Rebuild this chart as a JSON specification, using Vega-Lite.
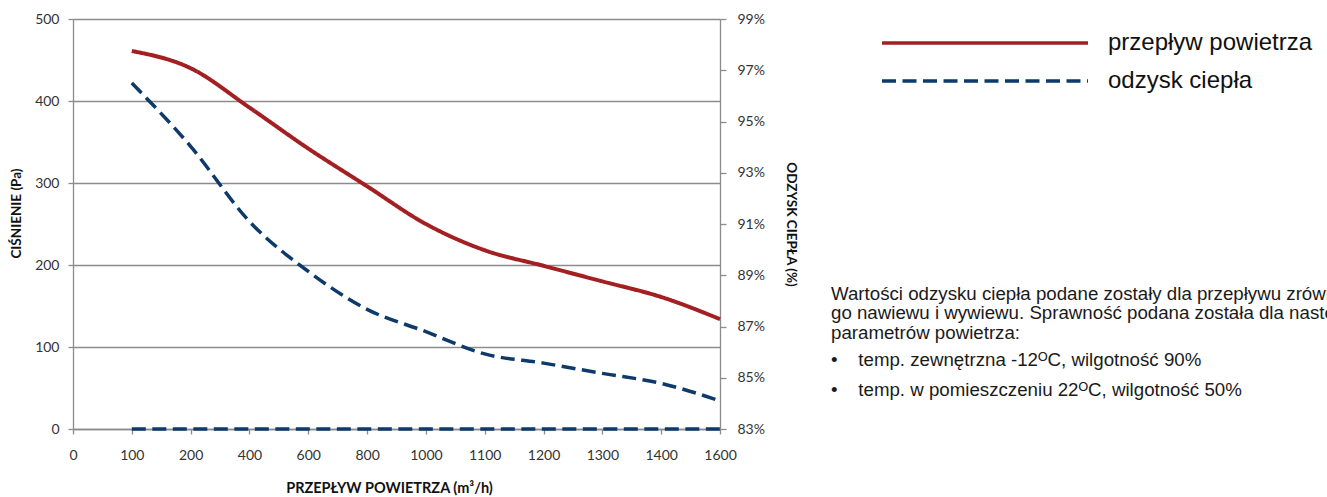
{
  "$schema": "https://vega.github.io/schema/vega-lite/v6.json",
  "autosize": {"type": "none"},
  "width": 647,
  "height": 410,
  "padding": {"left": 73, "top": 19, "right": 607, "bottom": 68},
  "background": "white",
  "datasets": {
    "pressure": [
      {"q": "100", "p": 461, "s": "przepływ powietrza"},
      {"q": "200", "p": 440, "s": "przepływ powietrza"},
      {"q": "400", "p": 392, "s": "przepływ powietrza"},
      {"q": "600", "p": 342, "s": "przepływ powietrza"},
      {"q": "800", "p": 296, "s": "przepływ powietrza"},
      {"q": "1000", "p": 250, "s": "przepływ powietrza"},
      {"q": "1100", "p": 218, "s": "przepływ powietrza"},
      {"q": "1200", "p": 199, "s": "przepływ powietrza"},
      {"q": "1300", "p": 180, "s": "przepływ powietrza"},
      {"q": "1400", "p": 161, "s": "przepływ powietrza"},
      {"q": "1600", "p": 134, "s": "przepływ powietrza"}
    ],
    "base": [
      {"q": "100", "p": 0},
      {"q": "200", "p": 0},
      {"q": "400", "p": 0},
      {"q": "600", "p": 0},
      {"q": "800", "p": 0},
      {"q": "1000", "p": 0},
      {"q": "1100", "p": 0},
      {"q": "1200", "p": 0},
      {"q": "1300", "p": 0},
      {"q": "1400", "p": 0},
      {"q": "1600", "p": 0}
    ],
    "recovery": [
      {"q": "100", "r": 96.5, "s": "odzysk ciepła"},
      {"q": "200", "r": 94.03, "s": "odzysk ciepła"},
      {"q": "400", "r": 91.1, "s": "odzysk ciepła"},
      {"q": "600", "r": 89.15, "s": "odzysk ciepła"},
      {"q": "800", "r": 87.67, "s": "odzysk ciepła"},
      {"q": "1000", "r": 86.8, "s": "odzysk ciepła"},
      {"q": "1100", "r": 85.93, "s": "odzysk ciepła"},
      {"q": "1200", "r": 85.57, "s": "odzysk ciepła"},
      {"q": "1300", "r": 85.17, "s": "odzysk ciepła"},
      {"q": "1400", "r": 84.78, "s": "odzysk ciepła"},
      {"q": "1600", "r": 84.1, "s": "odzysk ciepła"}
    ]
  },
  "title": {
    "text": [
      "Wartości odzysku ciepła podane zostały dla przepływu zrównoważone-",
      "go nawiewu i wywiewu. Sprawność podana została dla następujących",
      "parametrów powietrza:"
    ],
    "subtitle": [
      "•\u00a0\u00a0\u00a0\u00a0temp. zewnętrzna -12ᴼC, wilgotność 90%",
      "•\u00a0\u00a0\u00a0\u00a0temp. w pomieszczeniu 22ᴼC, wilgotność 50%"
    ],
    "anchor": "start",
    "frame": "group",
    "orient": "top",
    "offset": 0,
    "dx": 758,
    "dy": 388,
    "font": "Liberation Sans",
    "fontSize": 18.7,
    "fontWeight": "normal",
    "color": "#1a1a1a",
    "lineHeight": 19.35,
    "subtitleFont": "Liberation Sans",
    "subtitleFontSize": 18.7,
    "subtitleColor": "#1a1a1a",
    "subtitleLineHeight": 30,
    "subtitlePadding": 9
  },
  "config": {
    "view": {"stroke": null},
    "axis": {
      "labelFont": "Lato",
      "labelFontSize": 14,
      "labelColor": "#333333",
      "titleFont": "Lato",
      "titleFontSize": 13.5,
      "titleFontWeight": "bold",
      "titleColor": "#111111",
      "domainColor": "#8c8c8c",
      "domainWidth": 1.3,
      "tickColor": "#8c8c8c",
      "tickWidth": 1.3,
      "gridColor": "#8c8c8c",
      "gridWidth": 1.3
    }
  },
  "layer": [
    {
      "layer": [
        {
          "data": {"name": "pressure"},
          "mark": {"type": "line", "strokeWidth": 4, "interpolate": "monotone"},
          "encoding": {
            "x": {
              "field": "q", "type": "ordinal",
              "scale": {"type": "point", "padding": 0, "domain": ["0","100","200","400","600","800","1000","1100","1200","1300","1400","1600"]},
              "axis": {"title": "PRZEPŁYW POWIETRZA (m³/h)", "titleFontSize": 14.5, "titleX": 316, "labelAngle": 0, "tickSize": 5, "labelPadding": 14, "titlePadding": 19, "grid": false}
            },
            "y": {
              "field": "p", "type": "quantitative",
              "scale": {"domain": [0, 500], "nice": false},
              "axis": {"title": "CIŚNIENIE (Pa)", "titleY": 194, "values": [0,100,200,300,400,500], "grid": true, "tickSize": 5, "labelPadding": 9, "titlePadding": 11}
            },
            "color": {
              "field": "s", "type": "nominal",
              "scale": {"domain": ["przepływ powietrza", "odzysk ciepła"], "range": ["#a31f22", "#0d3a6a"]},
              "legend": {"orient": "none", "legendX": 807, "legendY": 5, "title": null, "symbolType": "stroke", "symbolSize": 42436, "symbolStrokeWidth": 3.5, "clipHeight": 38, "labelFont": "Liberation Sans", "labelFontSize": 24, "labelColor": "#111111", "labelOffset": 18, "rowPadding": 0, "padding": 0, "labelLimit": 400}
            },
            "strokeDash": {
              "field": "s", "type": "nominal",
              "scale": {"domain": ["przepływ powietrza", "odzysk ciepła"], "range": [[1, 0], [14, 6.5]]},
              "legend": {"orient": "none", "legendX": 807, "legendY": 5, "title": null, "symbolType": "stroke", "symbolSize": 42436, "symbolStrokeWidth": 3.5, "clipHeight": 38, "labelFont": "Liberation Sans", "labelFontSize": 24, "labelColor": "#111111", "labelOffset": 18, "rowPadding": 0, "padding": 0, "labelLimit": 400}
            }
          }
        },
        {
          "data": {"name": "base"},
          "mark": {"type": "line", "strokeWidth": 3.5, "color": "#0d3a6a", "strokeDash": [14, 6.5]},
          "encoding": {
            "x": {
              "field": "q", "type": "ordinal",
              "scale": {"type": "point", "padding": 0, "domain": ["0","100","200","400","600","800","1000","1100","1200","1300","1400","1600"]},
              "axis": {"title": "PRZEPŁYW POWIETRZA (m³/h)", "titleFontSize": 14.5, "titleX": 316, "labelAngle": 0, "tickSize": 5, "labelPadding": 14, "titlePadding": 19, "grid": false}
            },
            "y": {
              "field": "p", "type": "quantitative",
              "scale": {"domain": [0, 500], "nice": false},
              "axis": {"title": "CIŚNIENIE (Pa)", "titleY": 194, "values": [0,100,200,300,400,500], "grid": true, "tickSize": 5, "labelPadding": 9, "titlePadding": 11}
            }
          }
        }
      ]
    },
    {
      "data": {"name": "recovery"},
      "mark": {"type": "line", "strokeWidth": 3.5, "interpolate": "monotone"},
      "encoding": {
        "x": {
          "field": "q", "type": "ordinal",
          "scale": {"type": "point", "padding": 0, "domain": ["0","100","200","400","600","800","1000","1100","1200","1300","1400","1600"]},
          "axis": {"title": "PRZEPŁYW POWIETRZA (m³/h)", "titleFontSize": 14.5, "titleX": 316, "labelAngle": 0, "tickSize": 5, "labelPadding": 14, "titlePadding": 19, "grid": false}
        },
        "y": {
          "field": "r", "type": "quantitative",
          "scale": {"domain": [83, 99], "nice": false, "zero": false},
          "axis": {"orient": "right", "title": "ODZYSK CIEPŁA (%)", "values": [83,85,87,89,91,93,95,97,99], "labelExpr": "datum.value + '%'", "grid": false, "tickSize": 6, "labelPadding": 11, "titlePadding": 19}
        },
        "color": {
          "field": "s", "type": "nominal",
          "scale": {"domain": ["przepływ powietrza", "odzysk ciepła"], "range": ["#a31f22", "#0d3a6a"]},
          "legend": {"orient": "none", "legendX": 807, "legendY": 5, "title": null, "symbolType": "stroke", "symbolSize": 42436, "symbolStrokeWidth": 3.5, "clipHeight": 38, "labelFont": "Liberation Sans", "labelFontSize": 24, "labelColor": "#111111", "labelOffset": 18, "rowPadding": 0, "padding": 0, "labelLimit": 400}
        },
        "strokeDash": {
          "field": "s", "type": "nominal",
          "scale": {"domain": ["przepływ powietrza", "odzysk ciepła"], "range": [[1, 0], [14, 6.5]]},
          "legend": {"orient": "none", "legendX": 807, "legendY": 5, "title": null, "symbolType": "stroke", "symbolSize": 42436, "symbolStrokeWidth": 3.5, "clipHeight": 38, "labelFont": "Liberation Sans", "labelFontSize": 24, "labelColor": "#111111", "labelOffset": 18, "rowPadding": 0, "padding": 0, "labelLimit": 400}
        }
      }
    }
  ],
  "resolve": {"scale": {"y": "independent"}}
}
